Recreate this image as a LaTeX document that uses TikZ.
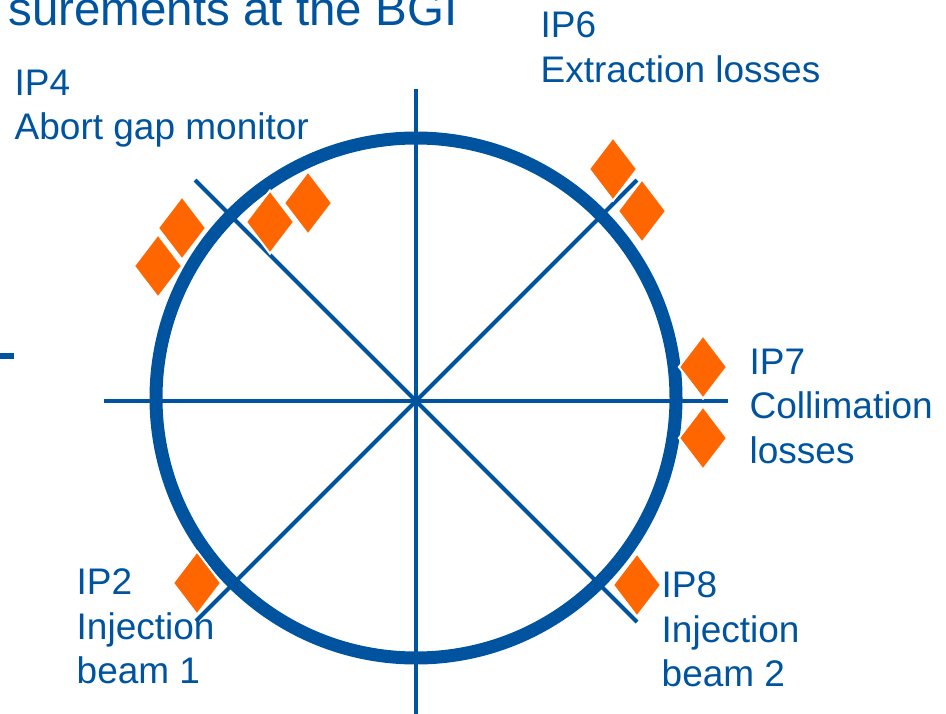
\documentclass[tikz,border=0pt]{standalone}
\usepackage{fontspec}
\setmainfont{Liberation Sans}
\usetikzlibrary{shapes,positioning}
\definecolor{ringblue}{RGB}{0,84,159}
\definecolor{lossorange}{RGB}{255,102,0}

\begin{document}
\begin{tikzpicture}[x=1pt,y=-1pt]
      \tikzstyle{iplabel} = [anchor=north west, inner sep=0pt, align=left, text=ringblue, font=\fontsize{37}{44.5}\selectfont]
      \tikzstyle{loss} = [diamond, fill=lossorange, draw=white, line width=2pt, minimum width=49pt, minimum height=64pt, inner sep=0pt]
      \tikzstyle{axis} = [draw=ringblue, line width=4pt]

      \useasboundingbox (0,0) rectangle (946,713);
      \clip (0,0) rectangle (946,713);

      \node[anchor=base east, inner sep=0pt, text=ringblue, font=\fontsize{47.5}{57}\selectfont] (title) at (457.5,25) {surements at the BGI};
      \draw[ringblue, line width=6pt] (0,356) -- (14,356);

      % cross lines through the ring
      \coordinate (c) at (416,401);
      \coordinate (n) at (416,89);
      \coordinate (s) at (416,725);
      \coordinate (w) at (104,401);
      \coordinate (e) at (728,401);
      \coordinate (nw) at (195,180);
      \coordinate (se) at (637,622);
      \coordinate (ne) at (637,180);
      \coordinate (sw) at (196,621);

      \draw[axis] (w) -- (e);
      \draw[axis] (n) -- (s);
      \draw[axis] (nw) -- (se);
      \draw[axis] (ne) -- (sw);

      \node[circle, draw=ringblue, line width=13pt, minimum size=520pt, inner sep=0pt] (ring) at (416,398) {};

      % loss monitors
      \node[loss] (ab1) at (158,266) {};
      \node[loss] (ab2) at (182,228) {};
      \node[loss] (ab3) at (270,222) {};
      \node[loss] (ab4) at (308,203) {};
      \node[loss] (ex1) at (613,169) {};
      \node[loss] (ex2) at (642,211) {};
      \node[loss] (col1) at (703,367) {};
      \node[loss] (col2) at (703,438) {};
      \node[loss] (inj1) at (197,583) {};
      \node[loss] (inj2) at (637,585) {};

      \node[iplabel] (ip4) at (14.5,69.5) {IP4\\Abort gap monitor};
      \node[iplabel] (ip6) at (540.5,11.5) {IP6\\Extraction losses};
      \node[iplabel] (ip7) at (749.5,348.5) {IP7\\Collimation\\losses};
      \node[iplabel] (ip2) at (76.5,568.5) {IP2\\Injection\\beam 1};
      \node[iplabel] (ip8) at (661.5,571.5) {IP8\\Injection\\beam 2};
\end{tikzpicture}
\end{document}
